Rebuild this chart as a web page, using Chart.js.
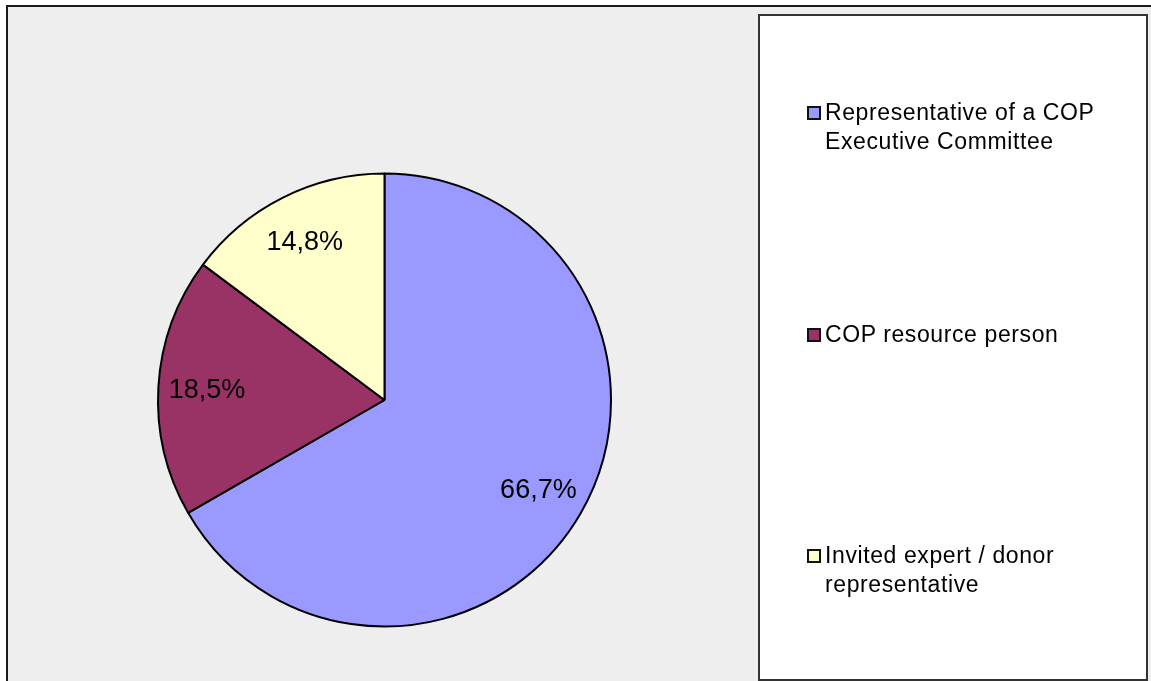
<!DOCTYPE html>
<html>
<head>
<meta charset="utf-8">
<script src="https://cdn.jsdelivr.net/npm/chart.js@4.4.0/dist/chart.umd.min.js"></script>
<style>
  html, body { margin: 0; padding: 0; background: #ffffff; width: 1151px; height: 681px; overflow: hidden; }
  #frame { position: absolute; left: 6px; top: 5px; width: 1200px; height: 720px; background: #eeeeee;
           border-left: 2px solid #1a1a1a; border-top: 2px solid #1a1a1a; }
  #legend { position: absolute; left: 758px; top: 14px; width: 386px; height: 663px; background: #ffffff;
            border: 2px solid #333333; }
  .item { position: absolute; left: 825px; font-family: "Liberation Sans", Arial, sans-serif; font-size: 23px;
          line-height: 29px; color: #000; letter-spacing: 0.6px; }
  .mark { position: absolute; left: -18px; top: 8px; width: 10px; height: 10px; border: 2px solid #111; }
  #c { position: absolute; left: 0; top: 0; }
</style>
</head>
<body>
<div id="frame"></div>
<div id="legend"></div>
<canvas id="c" width="1151" height="681"></canvas>
<div id="items"></div>
<script>
// Data
const categories = ["Representative of a COP\nExecutive Committee", "COP resource person", "Invited expert / donor\nrepresentative"];
const values = [66.7, 18.5, 14.8];
const colors = ["#9999ff", "#993366", "#ffffcc"];
const legendTops = [98, 320, 541];

// Legend (HTML)
const itemsDiv = document.getElementById('items');
categories.forEach((cat, i) => {
  const d = document.createElement('div');
  d.className = 'item';
  d.style.top = legendTops[i] + 'px';
  const m = document.createElement('span');
  m.className = 'mark';
  m.style.background = colors[i];
  d.appendChild(m);
  cat.split('\n').forEach((line, k) => {
    if (k > 0) d.appendChild(document.createElement('br'));
    d.appendChild(document.createTextNode(line));
  });
  itemsDiv.appendChild(d);
});

const labelPlugin = {
  id: 'sliceLabels',
  afterDatasetsDraw(chart) {
    const ctx = chart.ctx;
    const meta = chart.getDatasetMeta(0);
    ctx.save();
    ctx.font = '27px "Liberation Sans", Arial, sans-serif';
    ctx.fillStyle = '#000';
    ctx.textAlign = 'center';
    ctx.textBaseline = 'middle';
    meta.data.forEach((arc, i) => {
      const p = arc.getProps(['x', 'y', 'startAngle', 'endAngle', 'outerRadius'], true);
      const mid = (p.startAngle + p.endAngle) / 2;
      const r = p.outerRadius * 0.785;
      const txt = values[i].toFixed(1).replace('.', ',') + '%';
      ctx.fillText(txt, p.x + Math.cos(mid) * r, p.y + Math.sin(mid) * r + 1);
    });
    ctx.restore();
  }
};

new Chart(document.getElementById('c'), {
  type: 'pie',
  data: {
    labels: categories.map(c => c.replace('\n', ' ')),
    datasets: [{
      data: values,
      backgroundColor: colors,
      borderColor: '#000000',
      borderWidth: 2,
      hoverOffset: 0
    }]
  },
  options: {
    responsive: false,
    animation: false,
    events: [],
    layout: { padding: { left: 157, right: 539, top: 172, bottom: 53 } },
    plugins: { legend: { display: false }, tooltip: { enabled: false } }
  },
  plugins: [labelPlugin]
});
</script>
</body>
</html>
